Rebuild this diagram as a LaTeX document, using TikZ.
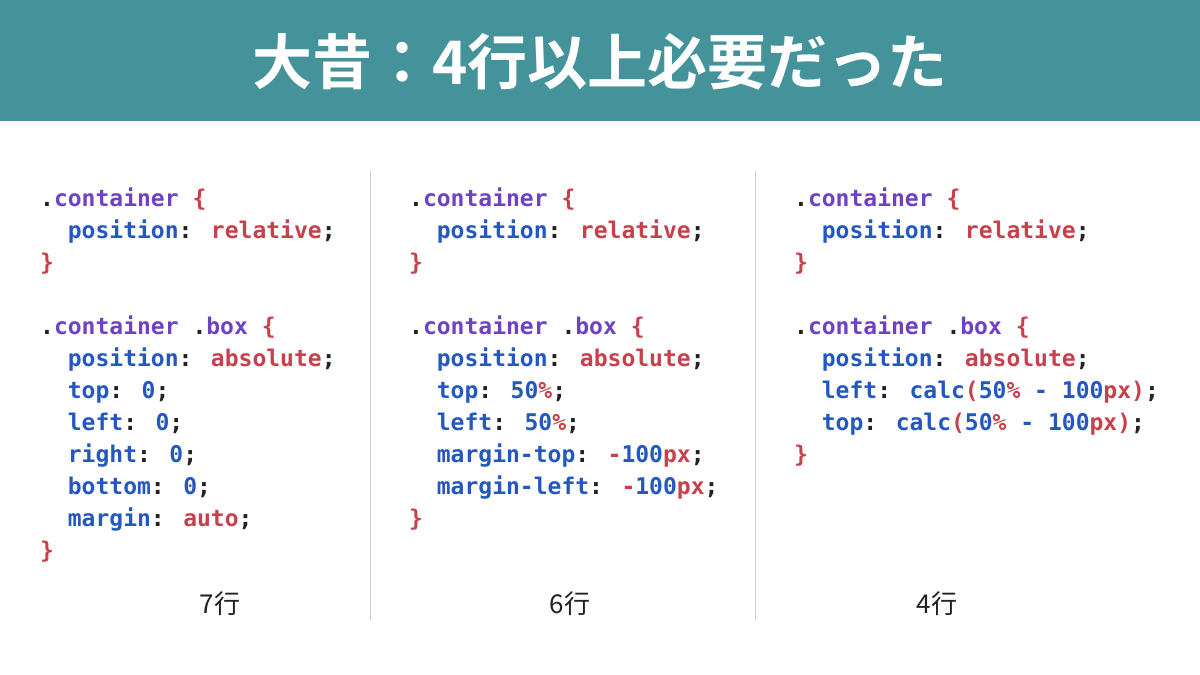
\documentclass[tikz,border=0pt]{standalone}
\usepackage{fontspec}
\newfontfamily\cjk{Noto Sans CJK JP}
\newfontfamily\cjkb{Noto Sans CJK JP Bold}
\newfontfamily\mono{DejaVu Sans Mono Bold}
\definecolor{teal1}{HTML}{44939A}
\definecolor{sel}{HTML}{6F42C1}
\definecolor{prop}{HTML}{2358C0}
\definecolor{val}{HTML}{C8404A}
\definecolor{pun}{HTML}{222222}
\newcommand{\Sx}[1]{\textcolor{sel}{#1}}
\newcommand{\Px}[1]{\textcolor{prop}{#1}}
\newcommand{\Vx}[1]{\textcolor{val}{#1}}
\newcommand{\Kx}[1]{\textcolor{pun}{#1}}
\begin{document}
\begin{tikzpicture}[x=1pt,y=-1pt,
  code/.style={anchor=base west,inner sep=0,font=\mono\fontsize{23pt}{26pt}\selectfont},
  lbl/.style={anchor=base,inner sep=0,font=\cjk\fontsize{26pt}{30pt}\selectfont,text=pun},
  divider/.style={draw=black!20,line width=1pt}]
\useasboundingbox (0,0) rectangle (1200,675);
\fill[teal1] (0,0) rectangle (1200,121);
\node[inner sep=0,text=white,font=\cjkb\fontsize{60pt}{66pt}\selectfont] (title) at (600,62) {大昔：4行以上必要だった};
\coordinate (d1t) at (370,171); \coordinate (d1b) at (370,620);
\coordinate (d2t) at (755,171); \coordinate (d2b) at (755,620);
\draw[divider] (d1t) -- (d1b);
\draw[divider] (d2t) -- (d2b);
% column 1
\node[code] (a1) at (40,206) {\Kx{.}\Sx{container} \Vx{\{}};
\node[code] (a2) at (40,238) {\ \ \Px{position}\Kx{:} \Vx{relative}\Kx{;}};
\node[code] (a3) at (40,270) {\Vx{\}}};
\node[code] (a4) at (40,334) {\Kx{.}\Sx{container} \Kx{.}\Sx{box} \Vx{\{}};
\node[code] (a5) at (40,366) {\ \ \Px{position}\Kx{:} \Vx{absolute}\Kx{;}};
\node[code] (a6) at (40,398) {\ \ \Px{top}\Kx{:} \Px{0}\Kx{;}};
\node[code] (a7) at (40,430) {\ \ \Px{left}\Kx{:} \Px{0}\Kx{;}};
\node[code] (a8) at (40,462) {\ \ \Px{right}\Kx{:} \Px{0}\Kx{;}};
\node[code] (a9) at (40,494) {\ \ \Px{bottom}\Kx{:} \Px{0}\Kx{;}};
\node[code] (a10) at (40,526) {\ \ \Px{margin}\Kx{:} \Vx{auto}\Kx{;}};
\node[code] (a11) at (40,558) {\Vx{\}}};
% column 2
\node[code] (b1) at (409,206) {\Kx{.}\Sx{container} \Vx{\{}};
\node[code] (b2) at (409,238) {\ \ \Px{position}\Kx{:} \Vx{relative}\Kx{;}};
\node[code] (b3) at (409,270) {\Vx{\}}};
\node[code] (b4) at (409,334) {\Kx{.}\Sx{container} \Kx{.}\Sx{box} \Vx{\{}};
\node[code] (b5) at (409,366) {\ \ \Px{position}\Kx{:} \Vx{absolute}\Kx{;}};
\node[code] (b6) at (409,398) {\ \ \Px{top}\Kx{:} \Px{50}\Vx{\%}\Kx{;}};
\node[code] (b7) at (409,430) {\ \ \Px{left}\Kx{:} \Px{50}\Vx{\%}\Kx{;}};
\node[code] (b8) at (409,462) {\ \ \Px{margin-top}\Kx{:} \Vx{-}\Px{100}\Vx{px}\Kx{;}};
\node[code] (b9) at (409,494) {\ \ \Px{margin-left}\Kx{:} \Vx{-}\Px{100}\Vx{px}\Kx{;}};
\node[code] (b10) at (409,526) {\Vx{\}}};
% column 3
\node[code] (c1) at (794,206) {\Kx{.}\Sx{container} \Vx{\{}};
\node[code] (c2) at (794,238) {\ \ \Px{position}\Kx{:} \Vx{relative}\Kx{;}};
\node[code] (c3) at (794,270) {\Vx{\}}};
\node[code] (c4) at (794,334) {\Kx{.}\Sx{container} \Kx{.}\Sx{box} \Vx{\{}};
\node[code] (c5) at (794,366) {\ \ \Px{position}\Kx{:} \Vx{absolute}\Kx{;}};
\node[code] (c6) at (794,398) {\ \ \Px{left}\Kx{:} \Px{calc}\Vx{(}\Px{50}\Vx{\%} \Px{-} \Px{100}\Vx{px}\Vx{)}\Kx{;}};
\node[code] (c7) at (794,430) {\ \ \Px{top}\Kx{:} \Px{calc}\Vx{(}\Px{50}\Vx{\%} \Px{-} \Px{100}\Vx{px}\Vx{)}\Kx{;}};
\node[code] (c8) at (794,462) {\Vx{\}}};
% labels
\node[lbl] (l1) at (220,613) {7行};
\node[lbl] (l2) at (570,613) {6行};
\node[lbl] (l3) at (937,613) {4行};
\end{tikzpicture}
\end{document}
